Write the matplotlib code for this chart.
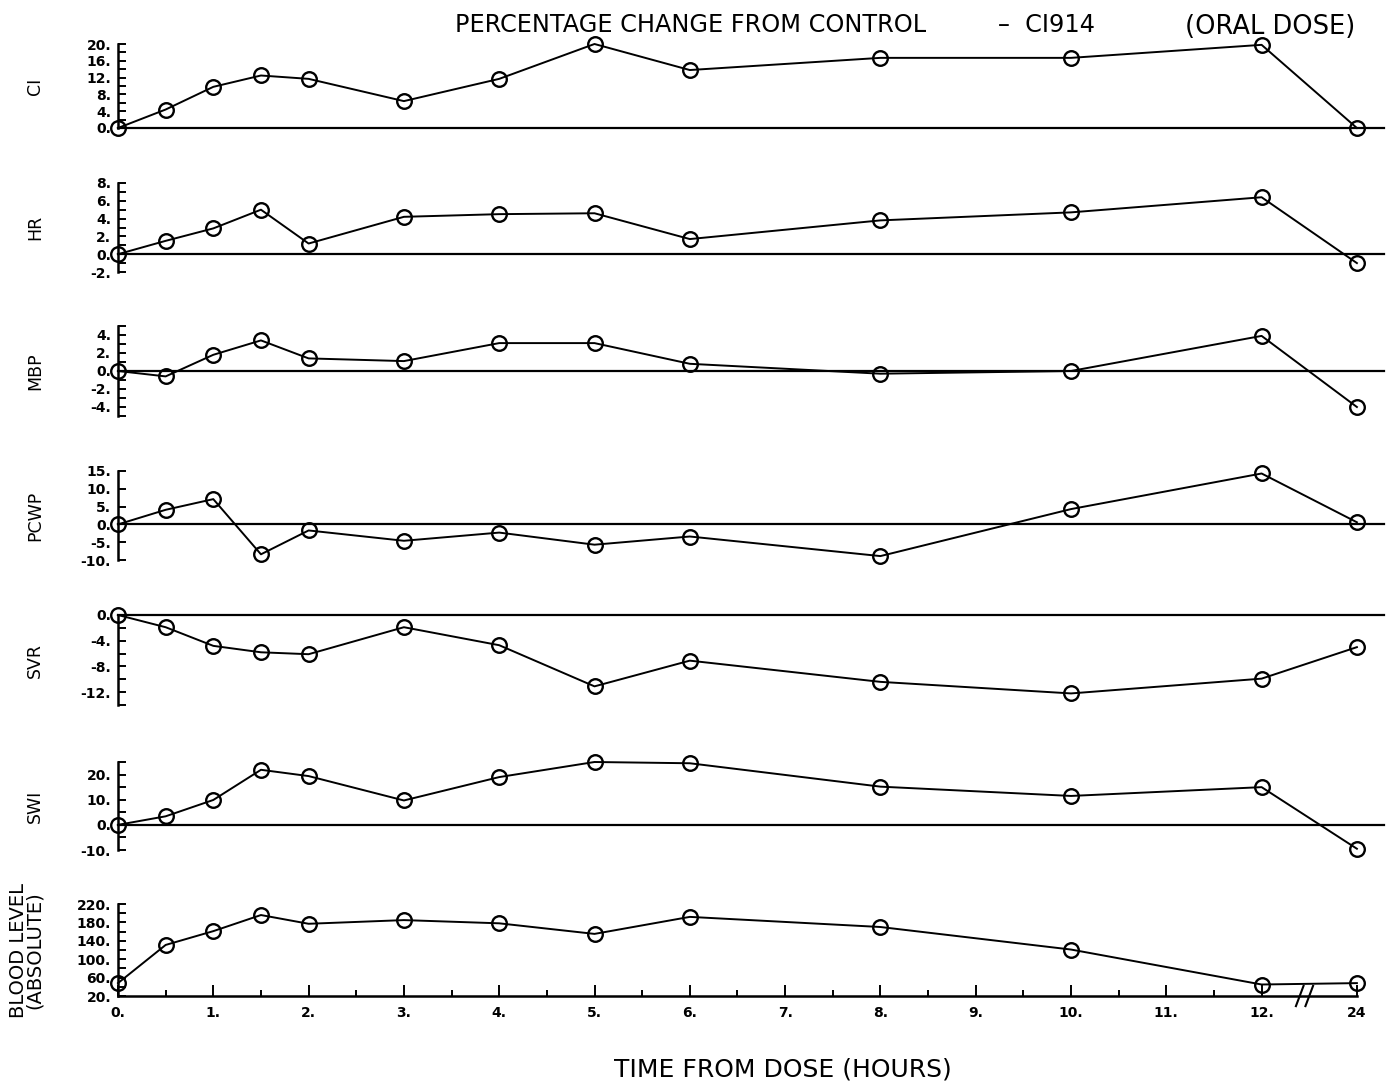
import matplotlib
matplotlib.use('Agg')
import matplotlib.pyplot as plt

# time points (hours after dose); 24 h is drawn after an axis break
hours = [0, 0.5, 1, 1.5, 2, 3, 4, 5, 6, 8, 10, 12, 24]

ci = [0, 4.4, 9.8, 12.5, 11.7, 6.4, 11.7, 20.0, 13.8, 16.7, 16.7, 19.8, 0.0]
hr = [0, 1.5, 2.9, 5.0, 1.2, 4.2, 4.5, 4.6, 1.7, 3.8, 4.7, 6.4, -1.0]
mbp = [0, -0.6, 1.8, 3.4, 1.4, 1.1, 3.1, 3.1, 0.8, -0.3, 0.0, 3.9, -4.0]
pcwp = [0, 4.1, 7.1, -8.4, -1.7, -4.6, -2.3, -5.7, -3.4, -8.9, 4.3, 14.3, 0.6]
svr = [0, -1.9, -4.8, -5.8, -6.1, -1.9, -4.7, -11.1, -7.1, -10.4, -12.2, -9.9, -5.0]
swi = [0, 3.4, 9.9, 21.9, 19.4, 9.7, 19.0, 25.0, 24.5, 15.2, 11.5, 15.0, -9.5]
blood = [48, 131, 161, 196, 177, 185, 178, 155, 192, 170, 121, 45, 48]

x_ticks = [0, 1, 2, 3, 4, 5, 6, 7, 8, 9, 10, 11, 12, 24]
x_labels = ['0.', '1.', '2.', '3.', '4.', '5.', '6.', '7.', '8.', '9.',
            '10.', '11.', '12.', '24']

title_main = 'PERCENTAGE CHANGE FROM CONTROL'
title_drug = '\u2013  CI914'
title_note = '(ORAL DOSE)'
xlabel = 'TIME FROM DOSE (HOURS)'


def xpos(h):
    # 24 h sits one unit right of 12 h (broken axis)
    return h if h <= 12 else 13


# name, values, ylim, major ticks, labels, minor ticks, (top px, bottom px)
panels = [
    ('CI', ci, (0, 20), [0, 4, 8, 12, 16, 20],
     ['0.', '4.', '8.', '12.', '16.', '20.'], range(0, 21, 2), (44, 128)),
    ('HR', hr, (-2, 8), [-2, 0, 2, 4, 6, 8],
     ['-2.', '0.', '2.', '4.', '6.', '8.'], range(-2, 9, 1), (183, 272)),
    ('MBP', mbp, (-5, 5), [-4, -2, 0, 2, 4],
     ['-4.', '-2.', '0.', '2.', '4.'], range(-5, 6, 1), (326, 416)),
    ('PCWP', pcwp, (-10, 15), [-10, -5, 0, 5, 10, 15],
     ['-10.', '-5.', '0.', '5.', '10.', '15.'], range(-10, 16, 5), (471, 560)),
    ('SVR', svr, (-14, 0), [-12, -8, -4, 0],
     ['-12.', '-8.', '-4.', '0.'], range(-14, 1, 2), (615, 705)),
    ('SWI', swi, (-10, 25), [-10, 0, 10, 20],
     ['-10.', '0.', '10.', '20.'], range(-10, 26, 5), (762, 850)),
    ('BLOOD LEVEL\n(ABSOLUTE)', blood, (20, 220), [20, 60, 100, 140, 180, 220],
     ['20.', '60.', '100.', '140.', '180.', '220.'], range(20, 221, 20), (904, 996)),
]

W, H = 1386, 1082
fig = plt.figure(figsize=(W / 100, H / 100), dpi=100)

left_px = 118
xmax = 13.28
unit_px = 95.3

xs = [xpos(h) for h in hours]
n = len(panels)

for i, (name, vals, ylim, yt, ytl, ymin, (top, bot)) in enumerate(panels):
    ax = fig.add_axes([left_px / W, 1 - bot / H, xmax * unit_px / W, (bot - top) / H])
    last = i == n - 1
    ax.set_xlim(0, xmax)
    ax.set_ylim(*ylim)
    for s in ['top', 'right']:
        ax.spines[s].set_visible(False)
    ax.spines['left'].set_linewidth(1.8)
    if not last:
        ax.spines['bottom'].set_visible(False)
        ax.set_xticks([])
        ax.axhline(0, color='black', lw=1.6, zorder=1, clip_on=False)
    else:
        ax.spines['bottom'].set_linewidth(1.8)
        ax.spines['bottom'].set_bounds(0, 13)
        ax.set_xticks([xpos(t) for t in x_ticks])
        ax.set_xticklabels(x_labels, fontweight='bold', fontsize=10)
        ax.set_xticks([t + 0.5 for t in range(12)], minor=True)
        ax.tick_params(axis='x', which='major', direction='in', length=8, width=1.4, pad=7)
        ax.tick_params(axis='x', which='minor', direction='in', length=4, width=1.4)
        # axis break marks between 12 and 24
        for dx in (12.4, 12.5):
            ax.plot([dx - 0.04, dx + 0.04], [ylim[0] - 22, ylim[0] + 22],
                    color='black', lw=1.5, clip_on=False)
    ax.set_yticks(yt)
    ax.set_yticklabels(ytl, fontweight='bold', fontsize=10)
    ax.set_yticks(list(ymin), minor=True)
    ax.tick_params(axis='y', which='both', direction='in', length=6, width=1.4, pad=5)

    ax.plot(xs, vals, color='black', lw=1.4, marker='o', markersize=10.5,
            mfc='none', mec='black', mew=1.7, clip_on=False, zorder=3)

    ax.set_ylabel(name, fontsize=14 if last else 12.5, linespacing=0.8)
    ax.yaxis.set_label_coords(-(left_px - 44) / (xmax * unit_px), 0.5)

fig.text(455 / W, 1 - 25 / H, title_main, fontsize=17.3, ha='left', va='center')
fig.text(998 / W, 1 - 25 / H, title_drug, fontsize=17.3, ha='left', va='center')
fig.text(1355 / W, 1 - 27 / H, title_note, fontsize=18.5, ha='right', va='center')
fig.text(783 / W, 1 - 1070 / H, xlabel, fontsize=18, ha='center', va='center')

fig.savefig('out.png', dpi=100)
